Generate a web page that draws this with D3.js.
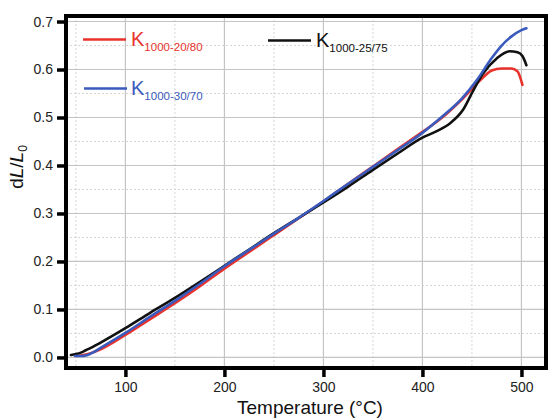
<!DOCTYPE html>
<html>
<head>
<meta charset="utf-8">
<script src="https://cdn.jsdelivr.net/npm/d3@7"></script>
<style>
  body { margin: 0; background: #fff; }
  svg { font-family: "Liberation Sans", Arial, sans-serif; }
</style>
</head>
<body>
<div id="chart"></div>
<script>
// temperatures (°C) and dL/L0 for each sample
var tempRed   = [50, 55, 60, 65, 75, 100, 125, 150, 175, 200, 225, 250, 275, 300, 325, 350, 375, 400, 420, 440, 458, 470, 480, 490, 496, 501];
var valsRed   = [0.003, 0.004, 0.006, 0.009, 0.017, 0.047, 0.080, 0.113, 0.148, 0.185, 0.220, 0.255, 0.290, 0.325, 0.362, 0.398, 0.434, 0.470, 0.500, 0.538, 0.577, 0.598, 0.602, 0.602, 0.596, 0.568];

var tempBlack = [45, 50, 55, 60, 65, 75, 100, 125, 150, 175, 200, 225, 250, 275, 300, 325, 350, 375, 400, 415, 428, 441, 451, 461, 475, 488, 496, 501, 505];
var valsBlack = [0.005, 0.007, 0.010, 0.015, 0.020, 0.031, 0.061, 0.093, 0.124, 0.157, 0.191, 0.225, 0.259, 0.291, 0.323, 0.356, 0.391, 0.425, 0.458, 0.472, 0.488, 0.516, 0.555, 0.591, 0.623, 0.638, 0.636, 0.628, 0.609];

var tempBlue  = [49, 55, 60, 65, 75, 100, 125, 150, 175, 200, 225, 250, 275, 300, 325, 350, 375, 400, 420, 440, 455, 470, 480, 490, 500, 505];
var valsBlue  = [0.003, 0.003, 0.004, 0.008, 0.020, 0.051, 0.085, 0.118, 0.153, 0.190, 0.224, 0.258, 0.291, 0.326, 0.362, 0.397, 0.432, 0.468, 0.502, 0.540, 0.578, 0.624, 0.650, 0.669, 0.682, 0.686];

var xTicks = [100, 200, 300, 400, 500];
var yTicks = [0.0, 0.1, 0.2, 0.3, 0.4, 0.5, 0.6, 0.7];
var xMinor = [50, 150, 250, 350, 450];
var yMinor = [0.05, 0.15, 0.25, 0.35, 0.45, 0.55, 0.65];

var series = [
  {name: "1000-20/80", temps: tempRed,   vals: valsRed,   color: "#e8322b", lx: 83,  ly: 39.5, tx: 131, ty: 46},
  {name: "1000-25/75", temps: tempBlack, vals: valsBlack, color: "#111111", lx: 268, ly: 40.5, tx: 316, ty: 47},
  {name: "1000-30/70", temps: tempBlue,  vals: valsBlue,  color: "#3a5bbd", lx: 84,  ly: 88.5, tx: 131, ty: 95}
];

var width = 549, height = 418;
var pLeft = 66, pRight = 546, pTop = 16, pBottom = 368;

var x = d3.scaleLinear().domain([40, 524.8]).range([pLeft, pRight]);
var y = d3.scaleLinear().domain([-0.022, 0.7115]).range([pBottom, pTop]);

var svg = d3.select("#chart").append("svg")
    .attr("width", width)
    .attr("height", height);

// minor grid (dotted)
svg.append("g").selectAll("line").data(xMinor).enter().append("line")
    .attr("x1", d => x(d)).attr("x2", d => x(d))
    .attr("y1", pTop).attr("y2", pBottom)
    .attr("stroke", "#d6d6d6").attr("stroke-dasharray", "2,2");
svg.append("g").selectAll("line").data(yMinor).enter().append("line")
    .attr("x1", pLeft).attr("x2", pRight)
    .attr("y1", d => y(d)).attr("y2", d => y(d))
    .attr("stroke", "#d6d6d6").attr("stroke-dasharray", "2,2");

// major grid
svg.append("g").selectAll("line").data(xTicks).enter().append("line")
    .attr("x1", d => x(d)).attr("x2", d => x(d))
    .attr("y1", pTop).attr("y2", pBottom)
    .attr("stroke", "#c4c4c4").attr("stroke-width", 1.2);
svg.append("g").selectAll("line").data(yTicks).enter().append("line")
    .attr("x1", pLeft).attr("x2", pRight)
    .attr("y1", d => y(d)).attr("y2", d => y(d))
    .attr("stroke", "#c4c4c4").attr("stroke-width", 1.2);

// curves
var line = d3.line()
    .x(d => x(d[0]))
    .y(d => y(d[1]))
    .curve(d3.curveMonotoneX);

series.forEach(function(s) {
  var pts = s.temps.map((t, i) => [t, s.vals[i]]);
  svg.append("path")
      .datum(pts)
      .attr("d", line)
      .attr("fill", "none")
      .attr("stroke", s.color)
      .attr("stroke-width", 2.6)
      .attr("stroke-linejoin", "round")
      .attr("stroke-linecap", "round");
});

// frame
svg.append("rect")
    .attr("x", pLeft).attr("y", pTop)
    .attr("width", pRight - pLeft).attr("height", pBottom - pTop)
    .attr("fill", "none")
    .attr("stroke", "#000")
    .attr("stroke-width", 4);

// axes
var xAxis = svg.append("g")
    .attr("transform", "translate(0," + (pBottom + 2) + ")")
    .call(d3.axisBottom(x).tickValues(xTicks).tickSize(7).tickPadding(5).tickFormat(d3.format("d")));
var yAxis = svg.append("g")
    .attr("transform", "translate(" + (pLeft - 2) + ",0)")
    .call(d3.axisLeft(y).tickValues(yTicks).tickSize(7).tickPadding(4).tickFormat(d3.format(".1f")));

[xAxis, yAxis].forEach(function(a) {
  a.select(".domain").remove();
  a.selectAll(".tick line").attr("stroke", "#000").attr("stroke-width", 3.5);
  a.selectAll(".tick text")
      .attr("font-family", "'Liberation Sans', Arial, sans-serif")
      .attr("font-size", 14)
      .attr("fill", "#222");
});

// axis titles
svg.append("text")
    .attr("x", 310).attr("y", 414)
    .attr("text-anchor", "middle")
    .attr("font-size", 19)
    .attr("fill", "#111")
    .text("Temperature (\u00B0C)");

var yt = svg.append("text")
    .attr("transform", "translate(23,167) rotate(-90)")
    .attr("text-anchor", "middle")
    .attr("font-size", 19)
    .attr("fill", "#111");
yt.append("tspan").text("d");
yt.append("tspan").attr("font-style", "italic").text("L");
yt.append("tspan").text("/");
yt.append("tspan").attr("font-style", "italic").text("L");
yt.append("tspan").attr("font-size", 12).attr("dy", 4).text("0");

// legend
series.forEach(function(s) {
  svg.append("line")
      .attr("x1", s.lx).attr("x2", s.lx + 43)
      .attr("y1", s.ly).attr("y2", s.ly)
      .attr("stroke", s.color)
      .attr("stroke-width", 2.6);
  var t = svg.append("text")
      .attr("x", s.tx).attr("y", s.ty)
      .attr("fill", s.color)
      .attr("font-size", 20);
  t.append("tspan").text("K");
  t.append("tspan").attr("font-size", 11.5).attr("dy", 5).text(s.name);
});
</script>
</body>
</html>
